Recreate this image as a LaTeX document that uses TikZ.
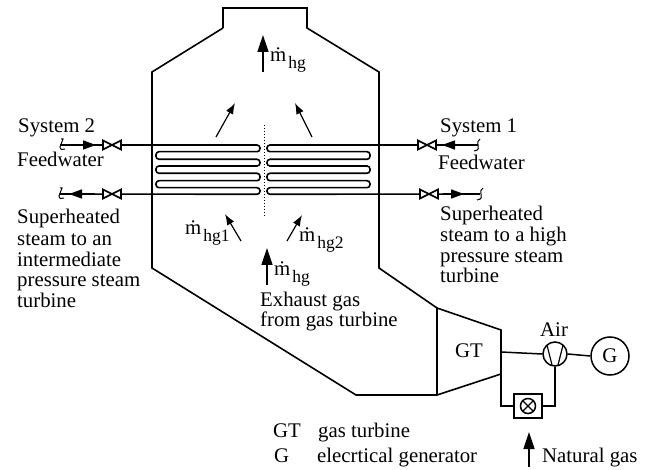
\documentclass[tikz,border=0pt]{standalone}
\usepackage{fontspec}
\setmainfont{Liberation Serif}
\usetikzlibrary{arrows.meta}
\newcommand{\mflow}[1]{ṁ\kern2pt\raisebox{-6.5pt}{\fontsize{17.5}{20}\selectfont #1}}
\tikzset{
  x=1pt,y=-1pt,
  wall/.style={line width=1.6pt,line join=miter},
  pipe/.style={line width=1.5pt},
  tube/.style={line width=1.6pt,rounded corners=3pt},
  flow/.style={line width=1.2pt,-{Latex[length=11pt,width=8pt]}},
  bigflow/.style={line width=1.5pt,-{Triangle[length=17pt,width=11pt]}},
  inline/.style={line width=1.5pt,-{Triangle[length=13pt,width=9pt]}},
  txt/.style={anchor=base west,inner sep=0pt,font=\fontsize{20.8}{24}\selectfont},
  valve/.style={line width=1.6pt,fill=white,line join=miter},
  ring/.style={circle,draw,line width=1.5pt,inner sep=0pt},
}
\newcommand{\myvalve}[2]{\draw[valve] (#1-9,#2-4.5) -- (#1+9,#2+4.5) -- (#1+9,#2-4.5) -- (#1-9,#2+4.5) -- cycle;}
\newcommand{\squigL}[2]{\draw[line width=1pt] (#1+1,#2-6) -- (#1+3,#2-6) .. controls (#1+3,#2-3) and (#1,#2-1) .. (#1,#2+2) .. controls (#1,#2+5) and (#1+3,#2+5) .. (#1+5,#2+4);}
\newcommand{\squigR}[2]{\draw[line width=1pt] (#1+2,#2-6) .. controls (#1-1,#2-5) and (#1,#2-2) .. (#1,#2) .. controls (#1,#2+3) and (#1+2,#2+5) .. (#1-4,#2+6);}
\begin{document}
\begin{tikzpicture}
\useasboundingbox (0,0) rectangle (651,470);
% casing
\draw[wall] (223,28) -- (223,8) -- (307,8) -- (307,28) -- (379,72) -- (379,268) -- (437,308);
\draw[wall] (223,28) -- (152,72) -- (152,268) -- (356,395) -- (437,395);
% turbine
\coordinate (gt1) at (437,308); \coordinate (gt2) at (501,330);
\coordinate (gt3) at (501,374); \coordinate (gt4) at (437,395);
\draw[wall] (gt1) -- (gt2) -- (gt3) -- (gt4) -- cycle;
% machines
\node[ring,minimum size=24pt] (comp) at (555,354) {};
\node[ring,minimum width=38pt,minimum height=36pt] (gen) at (610,356) {\fontsize{20.8}{24}\selectfont G};
\node[draw,line width=1.5pt,minimum width=28pt,minimum height=24pt,inner sep=0pt] (burner) at (528,406) {};
\node[ring,minimum size=15pt] (bc) at (528,406) {};
\draw[line width=1.2pt] (bc.north west) -- (bc.south east) (bc.north east) -- (bc.south west);
\draw[line width=1.2pt] (comp.north west)++(1,0) -- (552,365) (comp.north east)++(-1,0) -- (558,365);
\coordinate (gtm) at (501,352);
\draw[pipe] (gtm) -- (comp.west);
\draw[pipe] (comp.east) -- (gen.west);
\draw[pipe] (gt3) |- (burner.west);
\draw[pipe] (burner.east) -| (comp.south);
% tube bundles
\coordinate (sl) at (60,145); \coordinate (sr) at (478,145);
\coordinate (rl) at (60,194); \coordinate (rr) at (480,194);
\draw[tube] (sl) -- (260,145) -- (260,151.7) -- (156,151.7) -- (156,159.3) -- (260,159.3) -- (260,166) -- (156,166) -- (156,173.3) -- (260,173.3) -- (260,180.7) -- (156,180.7) -- (156,187.7) -- (260,187.7) -- (260,194.3) -- (rl);
\draw[tube] (sr) -- (267,145) -- (267,151.7) -- (370,151.7) -- (370,159.3) -- (267,159.3) -- (267,166) -- (370,166) -- (370,173.3) -- (267,173.3) -- (267,180.7) -- (370,180.7) -- (370,187.7) -- (267,187.7) -- (267,194.3) -- (rr);
\draw[line width=1pt,dotted] (264,125) -- (264,217);
% ends, valves, arrows on lines
\squigL{60}{145} \squigL{59}{194} \squigR{478}{145} \squigR{481}{194}
\myvalve{112}{145} \myvalve{112}{194} \myvalve{427}{145} \myvalve{429}{194}
\coordinate (a1) at (80,145); \coordinate (a1e) at (96,145);
\draw[inline] (a1) -- (a1e);
\coordinate (a2) at (86,194); \coordinate (a2e) at (69,194);
\draw[inline] (a2) -- (a2e);
\coordinate (a3) at (459,145); \coordinate (a3e) at (442,145);
\draw[inline] (a3) -- (a3e);
\coordinate (a4) at (447,194); \coordinate (a4e) at (464,194);
\draw[inline] (a4) -- (a4e);
% gas flow arrows
\coordinate (f1) at (263,72); \coordinate (f1e) at (263,35);
\draw[bigflow] (f1) -- (f1e);
\coordinate (f2) at (267,285); \coordinate (f2e) at (267,248);
\draw[bigflow] (f2) -- (f2e);
\coordinate (f3) at (529,467); \coordinate (f3e) at (529,432);
\draw[bigflow] (f3) -- (f3e);
\coordinate (f4) at (216,137); \coordinate (f4e) at (235,103);
\draw[flow] (f4) -- (f4e);
\coordinate (f5) at (312,137); \coordinate (f5e) at (295,103);
\draw[flow] (f5) -- (f5e);
\coordinate (f6) at (241,241); \coordinate (f6e) at (225,214);
\draw[flow] (f6) -- (f6e);
\coordinate (f7) at (287,241); \coordinate (f7e) at (302,215);
\draw[flow] (f7) -- (f7e);
% labels
\node[txt] (t1) at (18,133) {System 2};
\node[txt] (t2) at (17,167) {Feedwater};
\node[txt] (t3) at (17,224) {Superheated};
\node[txt] (t4) at (17,246) {steam to an};
\node[txt] (t5) at (17,267) {intermediate};
\node[txt] (t6) at (17,287) {pressure steam};
\node[txt] (t7) at (17,308) {turbine};
\node[txt] (t8) at (440,133) {System 1};
\node[txt] (t9) at (438,170) {Feedwater};
\node[txt] (t10) at (440,221) {Superheated};
\node[txt] (t11) at (440,242) {steam to a high};
\node[txt] (t12) at (440,263) {pressure steam};
\node[txt] (t13) at (440,283) {turbine};
\node[txt] (t14) at (260,307) {Exhaust gas};
\node[txt] (t15) at (260,327) {from gas turbine};
\node[txt] (t16) at (455,358) {GT};
\node[txt] (t17) at (540,337) {Air};
\node[txt] (t18) at (273,437) {GT};
\node[txt] (t19) at (318,437) {gas turbine};
\node[txt] (t20) at (274,462) {G};
\node[txt] (t21) at (317,462) {elecrtical generator};
\node[txt] (t22) at (542,462) {Natural gas};
\node[txt] (m1) at (270,62) {\mflow{hg}};
\node[txt] (m2) at (274,276) {\mflow{hg}};
\node[txt] (m3) at (185,235) {\mflow{hg1}};
\node[txt] (m4) at (299,242) {\mflow{hg2}};
\end{tikzpicture}
\end{document}
